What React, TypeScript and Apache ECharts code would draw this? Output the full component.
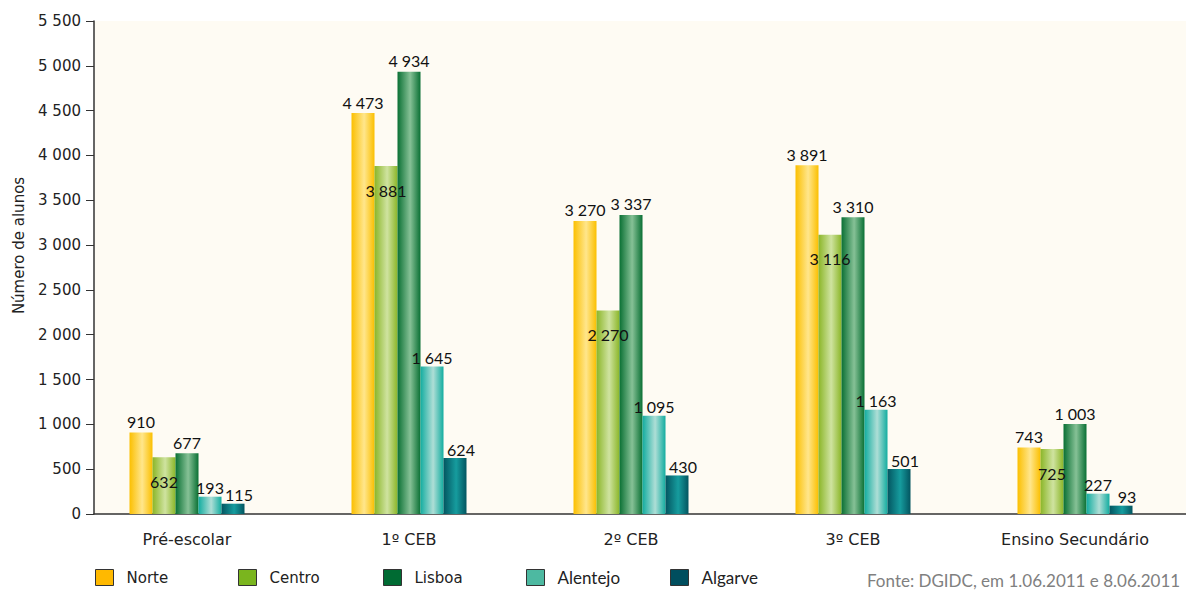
import React, { useEffect, useRef } from "react";
import * as echarts from "echarts";

const categories = ["Pré-escolar", "1º CEB", "2º CEB", "3º CEB", "Ensino Secundário"];
const seriesNames = ["Norte", "Centro", "Lisboa", "Alentejo", "Algarve"];
const norte = [910, 4473, 3270, 3891, 743];
const centro = [632, 3881, 2270, 3116, 725];
const lisboa = [677, 4934, 3337, 3310, 1003];
const alentejo = [193, 1645, 1095, 1163, 227];
const algarve = [115, 624, 430, 501, 93];
const yMin = 0;
const yMax = 5500;
const yStep = 500;
const sourceText = "Fonte: DGIDC, em 1.06.2011 e 8.06.2011";

const fmt = (v: number) => String(Math.round(v)).replace(/\B(?=(\d{3})+(?!\d))/g, " ");

const grad = (edge: string, mid: string) =>
  new echarts.graphic.LinearGradient(0, 0, 1, 0, [
    { offset: 0, color: edge },
    { offset: 0.55, color: mid },
    { offset: 1, color: edge },
  ]);

export default function App() {
  const ref = useRef<HTMLDivElement>(null);
  useEffect(() => {
    if (!ref.current) return;
    const chart = echarts.init(ref.current, null, { renderer: "svg" });
    const dataSets = [norte, centro, lisboa, alentejo, algarve];
    const fills = [
      grad("#FBBF00", "#FFE68C"),
      grad("#8BB628", "#CFE3A0"),
      grad("#0A7034", "#86C196"),
      grad("#13ADA0", "#AEDED6"),
      grad("#035560", "#169C9E"),
    ];
    const legendColors = ["#FFB900", "#7AB51E", "#006B33", "#4DB9A1", "#004E5E"];
    const legendLeft = [95, 238, 383, 526, 670];
    const legendFonts = ["DejaVu Sans", "DejaVu Sans", "DejaVu Sans", "Lato", "Lato"];
    const legendSizes = [15, 15, 15, 17, 17];
    const labelCfg = [
      { position: "top", distance: 3 },
      { position: "insideTop", distance: 16 },
      { position: "top", distance: 3 },
      { position: "top", distance: 1 },
      { position: "top", distance: 1, offset: [6, 0] },
    ];
    const series = dataSets.map((d, i) => ({
      name: seriesNames[i],
      type: "bar",
      xAxisIndex: 0,
      yAxisIndex: 0,
      data: d,
      barWidth: 23,
      barGap: "0%",
      itemStyle: { color: fills[i] },
      label: {
        show: true,
        ...labelCfg[i],
        formatter: (p: any) => fmt(p.value),
        fontFamily: "Lato",
        fontSize: 16,
        color: "#111",
      },
    }));
    chart.setOption({
      animation: false,
      title: {
        text: sourceText,
        left: 867,
        top: 572,
        textStyle: { fontFamily: "Lato", fontSize: 17, fontWeight: "normal", color: "#808080" },
        padding: 0,
      },
      legend: seriesNames.map((n, i) => ({
        left: legendLeft[i],
        top: 569,
        itemWidth: 18,
        itemHeight: 16,
        padding: 0,
        data: [
          {
            name: n,
            icon: "rect",
            itemStyle: { color: legendColors[i], borderColor: "#333", borderWidth: 1 },
          },
        ],
        textStyle: {
          fontFamily: legendFonts[i],
          fontSize: legendSizes[i],
          color: "#222",
          padding: [0, 0, 0, 8],
        },
      })),
      grid: [
        { left: 76, right: -4, top: 21, bottom: 76 },
        {
          left: 94,
          right: 0,
          top: 21,
          bottom: 76,
          show: true,
          backgroundColor: "#FEFBF3",
          borderWidth: 0,
          z: -1,
        },
      ],
      xAxis: [
        {
          type: "category",
          gridIndex: 0,
          data: categories,
          axisLine: { show: false },
          axisTick: { show: false },
          axisLabel: {
            margin: 17,
            fontFamily: "DejaVu Sans",
            fontSize: 16,
            color: "#222",
            interval: 0,
          },
        },
        {
          type: "value",
          gridIndex: 1,
          min: 0,
          max: 1,
          axisLine: { show: true, lineStyle: { color: "#333", width: 1.5 } },
          axisTick: { show: false },
          axisLabel: { show: false },
          splitLine: { show: false },
        },
      ],
      yAxis: [
        {
          type: "value",
          gridIndex: 0,
          min: yMin,
          max: yMax,
          interval: yStep,
          show: false,
        },
        {
          type: "value",
          gridIndex: 1,
          min: yMin,
          max: yMax,
          interval: yStep,
          name: "Número de alunos",
          nameLocation: "middle",
          nameRotate: 90,
          nameGap: 68,
          nameTextStyle: {
            fontFamily: "DejaVu Sans",
            fontSize: 15,
            color: "#222",
            padding: [0, 0, 0, 44],
          },
          axisLine: { show: true, lineStyle: { color: "#333", width: 1.5 } },
          axisTick: { show: true, length: 8, lineStyle: { color: "#333" } },
          axisLabel: {
            margin: 13,
            fontFamily: "DejaVu Sans",
            fontSize: 15,
            color: "#222",
            formatter: (v: number) => fmt(v),
          },
          splitLine: { show: false },
        },
      ],
      series,
    });
    return () => chart.dispose();
  }, []);
  return (
    <div
      ref={ref}
      style={{ position: "absolute", left: 0, top: 0, width: 1186, height: 590 }}
    />
  );
}
